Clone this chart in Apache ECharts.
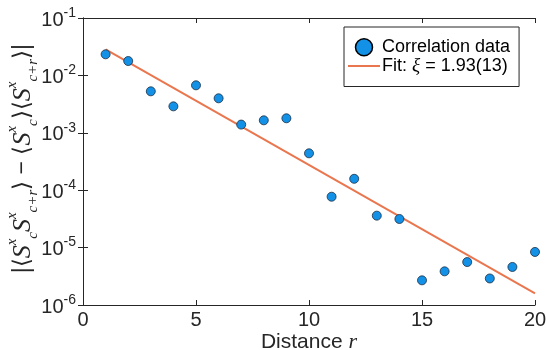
<!DOCTYPE html>
<html>
<head>
<meta charset="utf-8">
<script src="https://cdn.jsdelivr.net/npm/echarts@6/dist/echarts.min.js"></script>
<style>
  html, body { margin: 0; padding: 0; background: #fff; }
  #chart { width: 546px; height: 350px; }
</style>
</head>
<body>
<div id="chart"></div>
<script>
// distances and measured correlation values
const distances = [1, 2, 3, 4, 5, 6, 7, 8, 9, 10, 11, 12, 13, 14, 15, 16, 17, 18, 19, 20];
const correlation = [
  0.0233, 0.0178, 0.00528, 0.00289, 0.00672, 0.00399, 0.00139, 0.00165, 0.00179, 0.000439,
  7.7e-5, 1.58e-4, 3.6e-5, 3.15e-5, 2.69e-6, 3.86e-6, 5.6e-6, 2.9e-6, 4.6e-6, 8.4e-6
];
// end points of the exponential fit
const fitR = [1, 20];
const fitValues = [0.0285, 1.6e-6];

const yMin = 1e-6;
const yMax = 1e-1;

const axisColor = '#262626';
const font = 'Liberation Sans, Arial, sans-serif';
const mathFont = 'Liberation Serif, DejaVu Serif, serif';

const chart = echarts.init(document.getElementById('chart'));

const powLabel = (value) => {
  const e = Math.round(Math.log10(value));
  return '{b|10}{e|' + e + '}';
};

const tickRich = {
  b: { fontSize: 20, fontFamily: font, color: axisColor, lineHeight: 24, verticalAlign: 'bottom' },
  e: { fontSize: 14, fontFamily: font, color: axisColor, lineHeight: 14, verticalAlign: 'top' }
};

const scatterData = distances.map((r, i) => [r, correlation[i]]);
const fitData = fitR.map((r, i) => [r, fitValues[i]]);

const fitName = 'Fit: {i|ξ} = 1.93(13)';
const dataName = 'Correlation data';

const yName =
  '{n||⟨}{s|S}{p|x}{c|c}{s|S}{p|x}{c|c+r}{n|⟩ − ⟨}{s|S}{p|x}{c|c}{n|⟩⟨}{s|S}{p|x}{c|c+r}{n|⟩|}';

const option = {
  animation: false,
  grid: { left: 83, right: 11, top: 18, bottom: 45, outerBoundsMode: 'none' },
  xAxis: [
    {
      type: 'value',
      min: 0,
      max: 20,
      interval: 5,
      axisLine: { lineStyle: { color: axisColor, width: 1 } },
      axisTick: { inside: true, length: 5, lineStyle: { color: axisColor } },
      axisLabel: { fontSize: 20, fontFamily: font, color: axisColor, margin: 5 },
      splitLine: { show: false },
      name: 'Distance {i|r}',
      nameLocation: 'middle',
      nameGap: 26,
      nameMoveOverlap: false,
      nameTextStyle: {
        fontSize: 21, fontFamily: font, color: axisColor, lineHeight: 22,
        rich: { i: { fontSize: 22, fontFamily: mathFont, fontStyle: 'italic', color: axisColor, lineHeight: 22 } }
      }
    },
    {
      type: 'value',
      position: 'top',
      min: 0,
      max: 20,
      interval: 5,
      axisLine: { lineStyle: { color: axisColor, width: 1 } },
      axisTick: { inside: true, length: 5, lineStyle: { color: axisColor } },
      axisLabel: { show: false },
      splitLine: { show: false }
    }
  ],
  yAxis: [
    {
      type: 'log',
      logBase: 10,
      min: yMin,
      max: yMax,
      axisLine: { show: true, lineStyle: { color: axisColor, width: 1 } },
      axisTick: { show: true, inside: true, length: 5, lineStyle: { color: axisColor } },
      minorTick: { show: false },
      axisLabel: { formatter: powLabel, rich: tickRich, margin: 7 },
      splitLine: { show: false }
    },
    {
      type: 'log',
      logBase: 10,
      position: 'right',
      min: yMin,
      max: yMax,
      axisLine: { show: true, lineStyle: { color: axisColor, width: 1 } },
      axisTick: { show: true, inside: true, length: 5, lineStyle: { color: axisColor } },
      axisLabel: { show: false },
      splitLine: { show: false }
    }
  ],
  legend: {
    left: 344,
    top: 27,
    orient: 'vertical',
    align: 'left',
    backgroundColor: '#fff',
    borderColor: axisColor,
    borderWidth: 1,
    borderRadius: 0,
    padding: [11, 9, 11, 4],
    itemGap: 0,
    itemWidth: 32,
    itemHeight: 17,
    symbolKeepAspect: true,
    textStyle: {
      fontSize: 18, fontFamily: font, color: '#000', padding: [0, 0, 0, -3],
      rich: { i: { fontSize: 19, fontFamily: mathFont, fontStyle: 'italic', color: '#000' } }
    },
    data: [
      { name: dataName, icon: 'circle', itemStyle: { borderColor: '#000', borderWidth: 1.5 } },
      { name: fitName, icon: 'path://M0,0 L32,0 L32,2 L0,2 Z' }
    ]
  },
  graphic: [
    {
      type: 'text',
      left: 5,
      top: 44,
      rotation: Math.PI / 2,
      style: {
        text: yName,
        fill: axisColor,
        rich: {
          n: { fontSize: 23, fontFamily: font, fill: axisColor, lineHeight: 36 },
          s: { fontSize: 26, fontFamily: mathFont, fontStyle: 'italic', fill: axisColor, lineHeight: 36 },
          p: { fontSize: 15, fontFamily: mathFont, fontStyle: 'italic', fill: axisColor, verticalAlign: 'top', lineHeight: 16 },
          c: { fontSize: 15, fontFamily: mathFont, fontStyle: 'italic', fill: axisColor, verticalAlign: 'bottom', lineHeight: 16 }
        }
      }
    }
  ],
  series: [
    {
      name: fitName,
      type: 'line',
      data: fitData,
      symbol: 'none',
      lineStyle: { color: '#e9764e', width: 2 },
      itemStyle: { color: '#e9764e' },
      z: 2
    },
    {
      name: dataName,
      type: 'scatter',
      data: scatterData,
      symbolSize: 9,
      itemStyle: { color: '#1391e6', borderColor: '#1d2f44', borderWidth: 0.8, opacity: 1 },
      z: 3
    }
  ]
};

chart.setOption(option);
</script>
</body>
</html>
